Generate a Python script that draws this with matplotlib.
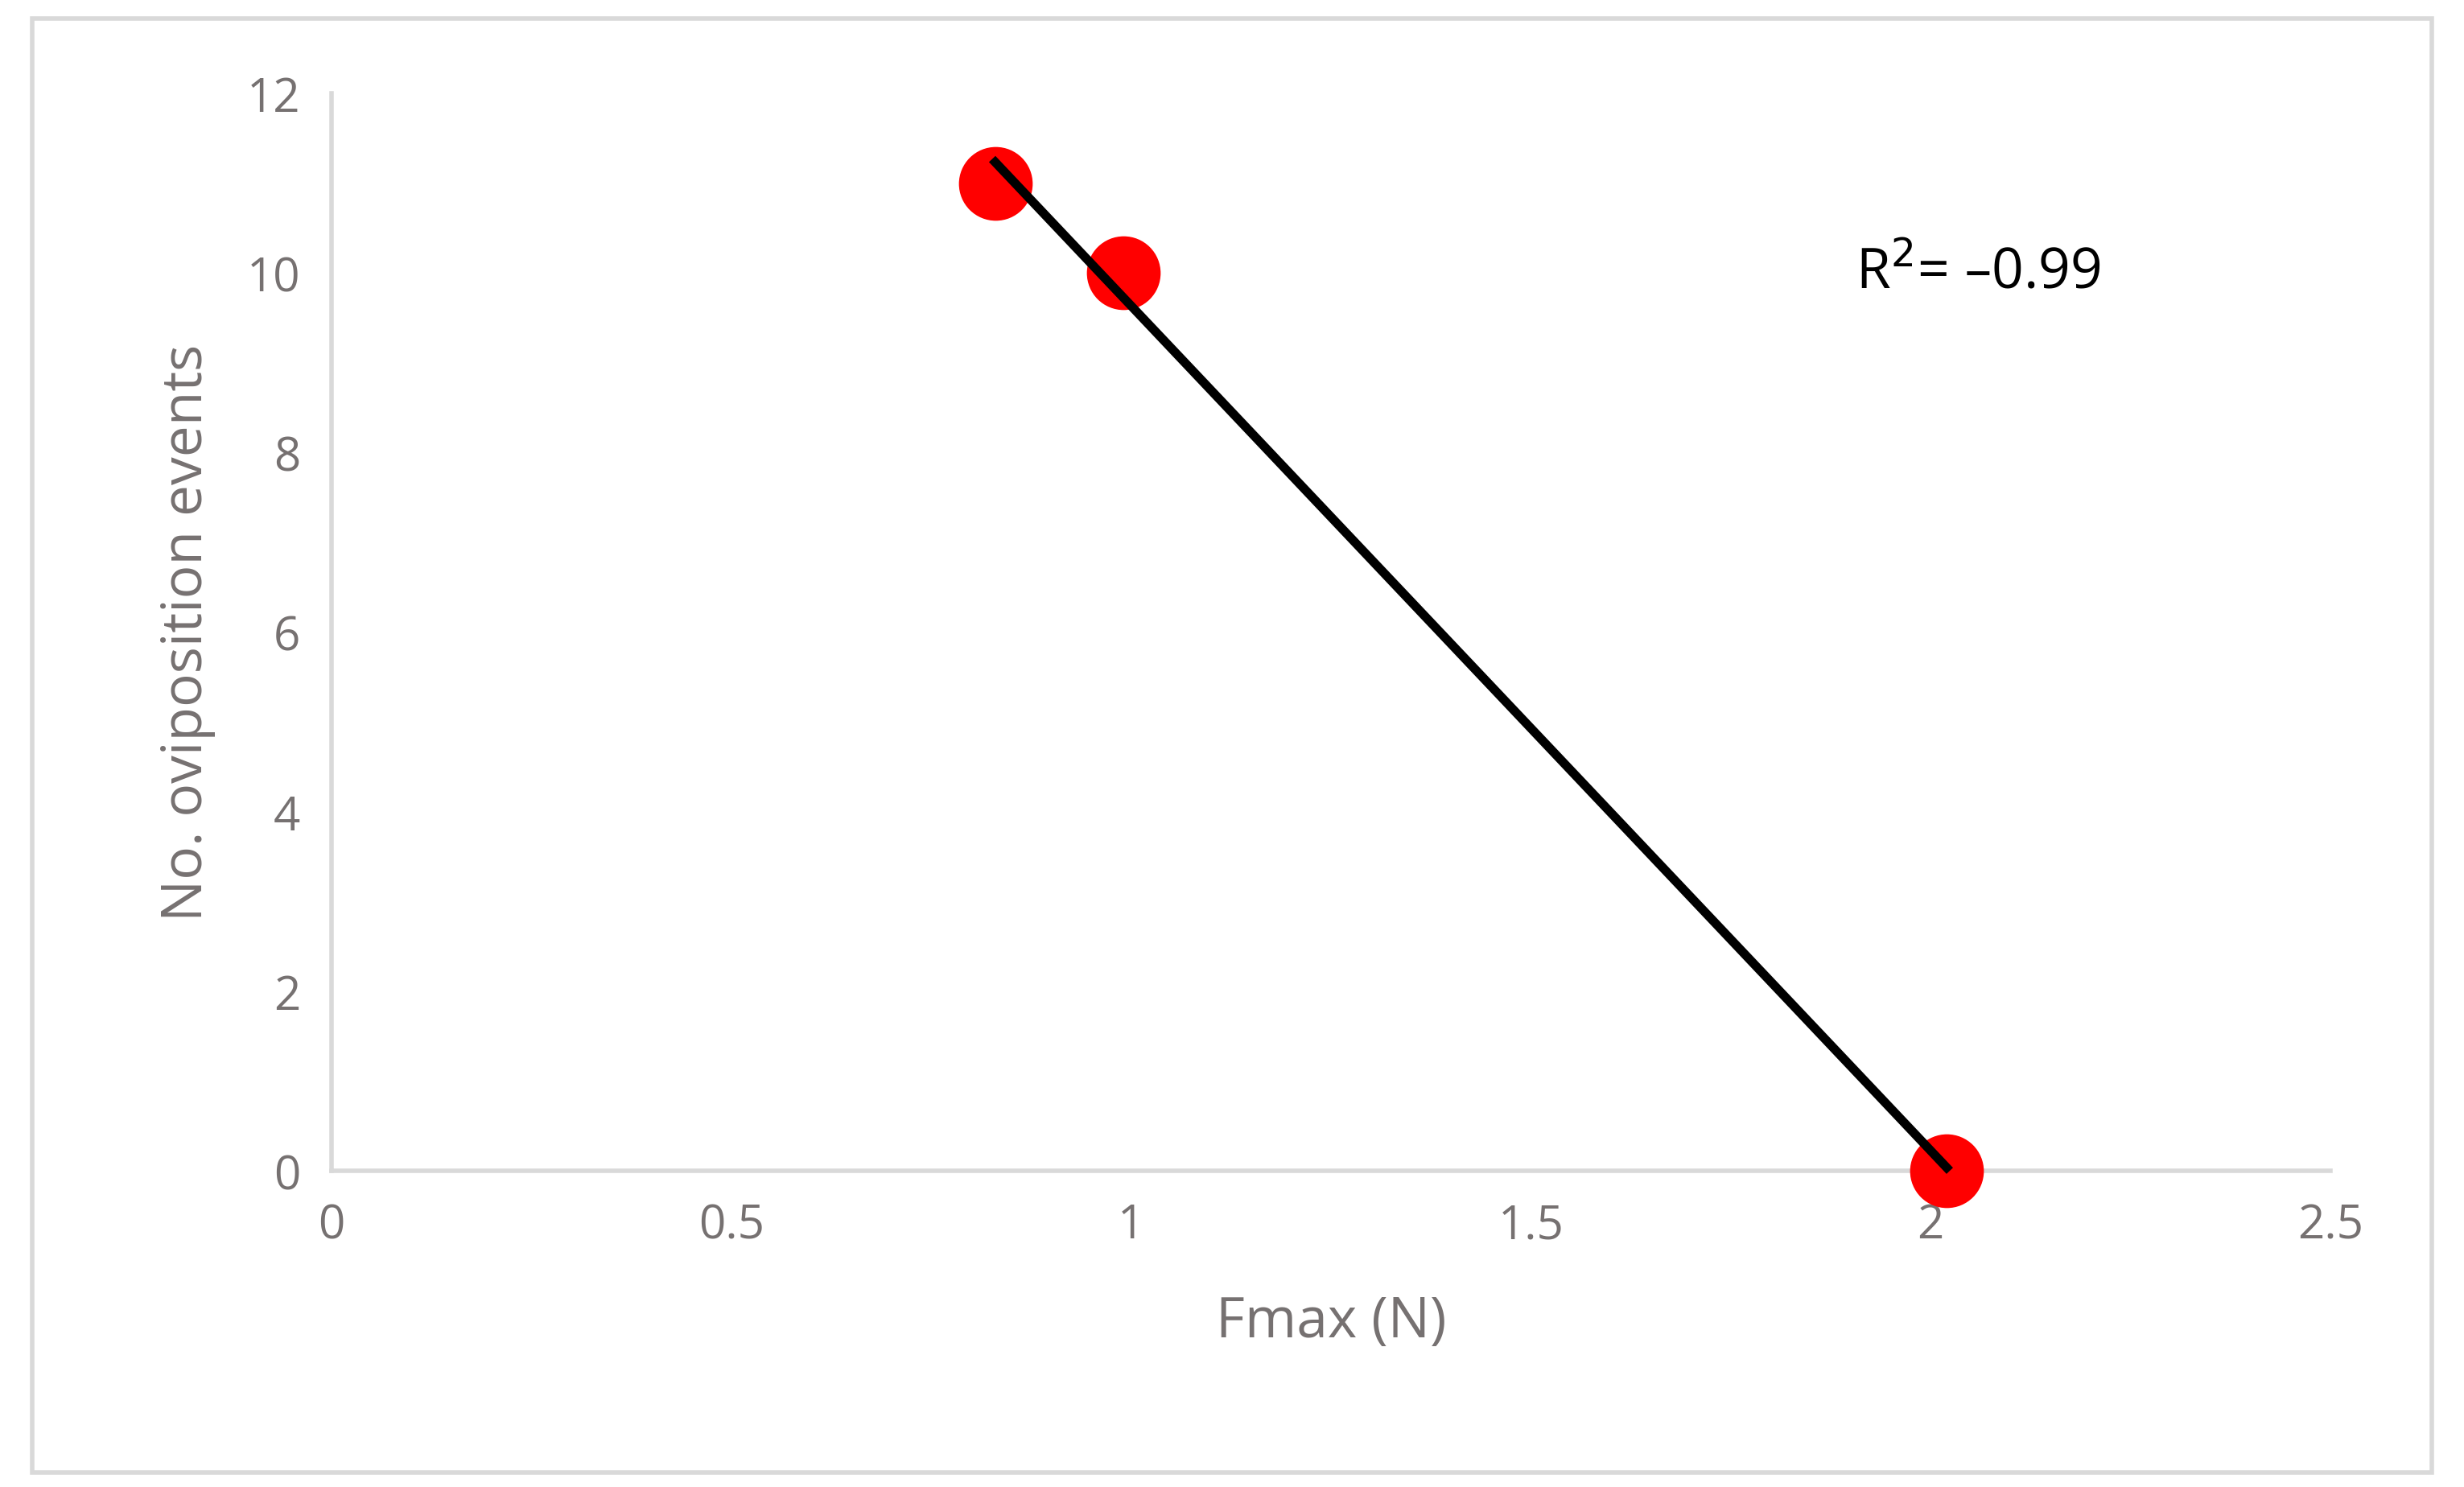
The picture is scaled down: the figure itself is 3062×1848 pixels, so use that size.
import matplotlib
matplotlib.use("Agg")
import matplotlib.pyplot as plt
from matplotlib.patches import Rectangle
import numpy as np

fmax = [0.83, 0.99, 2.02]
events = [11, 10, 0]
x_ticks = [0, 0.5, 1, 1.5, 2, 2.5]
x_labels = ["0", "0.5", "1", "1.5", "2", "2.5"]
y_ticks = [0, 2, 4, 6, 8, 10, 12]

plt.rcParams['font.family'] = ['Open Sans', 'DejaVu Sans']
grey = "#767171"

fig = plt.figure(figsize=(15.31, 9.245), dpi=200)
ax = fig.add_axes([0.1346, 0.2125, 0.8112, 0.7241])

ax.scatter(fmax, events, s=33**2, color="#ff0000", zorder=4, linewidths=0, clip_on=False)
slope, icpt = np.polyfit(fmax, events, 1)
xs = np.array([min(fmax), max(fmax)])
ax.plot(xs, slope * xs + icpt, color="black", lw=4, zorder=5, clip_on=False)

ax.set_xlim(0, 2.5)
ax.set_ylim(0, 12)
ax.set_xticks(x_ticks)
ax.set_xticklabels(x_labels)
ax.set_yticks(y_ticks)
ax.tick_params(length=0, labelsize=21, labelcolor=grey, pad=14)
for s in ["top", "right"]:
    ax.spines[s].set_visible(False)
for s in ["left", "bottom"]:
    ax.spines[s].set_color("#d9d9d9")
    ax.spines[s].set_linewidth(2)
    ax.spines[s].set_zorder(0)

ax.set_xlabel("Fmax (N)", fontsize=25, color=grey, labelpad=20)
ax.set_ylabel("No. oviposition events", fontsize=25, color=grey, labelpad=14)
ax.text(2.06, 10, "R$^2$= \u20130.99", fontsize=25, color="black",
        ha="center", va="center")

fig.patches.append(Rectangle((0.013, 0.01), 0.974, 0.977, transform=fig.transFigure,
                             fill=False, edgecolor="#d9d9d9", lw=2))
fig.savefig("out.png", dpi=200, facecolor="white")
